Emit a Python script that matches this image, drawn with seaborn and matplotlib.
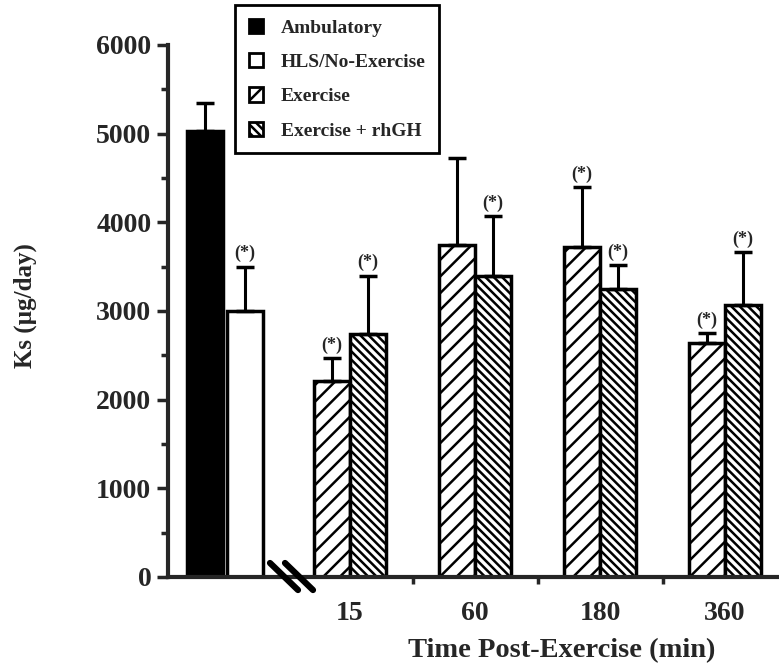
import matplotlib
matplotlib.use("Agg")
import matplotlib.pyplot as plt
from matplotlib.patches import Patch
import seaborn as sns
import pandas as pd

# values (mean and upward SE)
times = ["15", "60", "180", "360"]
control_labels = ["Ambulatory", "HLS/No-Exercise"]
control = [5030, 3000]
control_err = [320, 500]
exercise = [2210, 3740, 3720, 2640]
exercise_err = [260, 990, 680, 110]
rhgh = [2740, 3390, 3250, 3070]
rhgh_err = [660, 680, 270, 590]
# significance marks "(*)"
control_sig = [False, True]
exercise_sig = [True, False, True, True]
rhgh_sig = [True, True, True, True]

sns.set_style("ticks")
plt.rcParams["font.family"] = ["Liberation Serif", "DejaVu Serif"]
plt.rcParams["font.weight"] = "bold"
plt.rcParams["hatch.linewidth"] = 1.8
plt.rcParams["hatch.color"] = "black"

fig = plt.figure(figsize=(7.79, 6.66), dpi=100)
ax = fig.add_axes([168 / 779, 89 / 666, 611 / 779, 532 / 666])

order = ["ctrl"] + times

df_ctrl = pd.DataFrame({"group": ["ctrl", "ctrl"],
                        "condition": control_labels,
                        "value": control})
df_ex = pd.DataFrame({"group": times * 2,
                      "condition": ["Exercise"] * 4 + ["Exercise + rhGH"] * 4,
                      "value": exercise + rhgh})

sns.barplot(data=df_ctrl, x="group", y="value", hue="condition", order=order,
            hue_order=control_labels, palette=["black", "white"], width=0.64,
            gap=0.08, errorbar=None, edgecolor="black", linewidth=2.5,
            saturation=1, legend=False, ax=ax)
sns.barplot(data=df_ex, x="group", y="value", hue="condition", order=order,
            hue_order=["Exercise", "Exercise + rhGH"], palette=["white", "white"],
            width=0.576, errorbar=None, edgecolor="black", linewidth=2.5,
            saturation=1, legend=False, ax=ax)

# bars sorted left to right: Amb, HLS, then (Exercise, rhGH) per time point
bars = sorted(ax.patches, key=lambda p: p.get_x())
errs = list(control_err)
sigs = list(control_sig)
for i in range(len(times)):
    errs += [exercise_err[i], rhgh_err[i]]
    sigs += [exercise_sig[i], rhgh_sig[i]]

for k, p in enumerate(bars[2:]):
    p.set_hatch("//" if k % 2 == 0 else "\\\\\\\\")

xs = [p.get_x() + p.get_width() / 2 for p in bars]
hs = [p.get_height() for p in bars]
ax.errorbar(xs, hs, yerr=[[0] * len(errs), errs], fmt="none", ecolor="black",
            elinewidth=2.2, capsize=6.5, capthick=2.5, zorder=1)
for x, h, e, s in zip(xs, hs, errs, sigs):
    if s:
        ax.annotate("(*)", xy=(x, h + e), xytext=(0, 3), textcoords="offset points",
                    ha="center", va="bottom", fontsize=13, fontweight="bold")

ax.set_xlim(-0.456, 4.432)
ax.set_ylim(0, 6000)
ax.set_yticks(range(0, 6001, 1000))
ax.set_yticks(range(500, 6000, 1000), minor=True)
ax.set_xticks(range(5))
ax.set_xticklabels([""] + times)
ax.set_xticks([1.5, 2.5, 3.5], minor=True)
ax.tick_params(axis="y", which="major", length=8, width=2.5, labelsize=20, pad=4)
ax.tick_params(axis="y", which="minor", length=5, width=2.5)
ax.tick_params(axis="x", which="major", length=0, labelsize=20, pad=17)
ax.tick_params(axis="x", which="minor", length=5, width=2.5)
for lab in ax.get_xticklabels() + ax.get_yticklabels():
    lab.set_fontweight("bold")

sns.despine(ax=ax)
ax.spines["left"].set_linewidth(3)
ax.spines["bottom"].set_linewidth(3)

ax.set_xlabel("Time Post-Exercise (min)", fontsize=20.5, fontweight="bold")
ax.xaxis.set_label_coords(0.645, -0.115)
ax.set_ylabel("Ks (\u00b5g/day)", fontsize=18, fontweight="bold")
ax.yaxis.set_label_coords(-0.215, 0.51)

# axis break marks
for x0 in (0.36, 0.48):
    ax.plot([x0, x0 + 0.224], [158, -147], color="black", lw=4.5,
            solid_capstyle="round", clip_on=False, zorder=5)

handles = [Patch(facecolor="black", edgecolor="black", lw=2),
           Patch(facecolor="white", edgecolor="black", lw=2),
           Patch(facecolor="white", edgecolor="black", lw=2, hatch="//"),
           Patch(facecolor="white", edgecolor="black", lw=2, hatch="\\\\\\\\")]
labels = control_labels + ["Exercise", "Exercise + rhGH"]
leg = fig.legend(handles, labels, loc="upper left",
                 bbox_to_anchor=(235 / 779, 1 - 5 / 666),
                 bbox_transform=fig.transFigure, frameon=True, fancybox=False,
                 framealpha=1, edgecolor="black",
                 prop={"weight": "bold", "size": 14},
                 handlelength=0.75, handleheight=0.75, labelspacing=0.85,
                 borderpad=0.7, handletextpad=0.9, borderaxespad=0)
leg.get_frame().set_linewidth(2)
leg._legend_box.sep = 0

fig.savefig("out.png", dpi=100)
